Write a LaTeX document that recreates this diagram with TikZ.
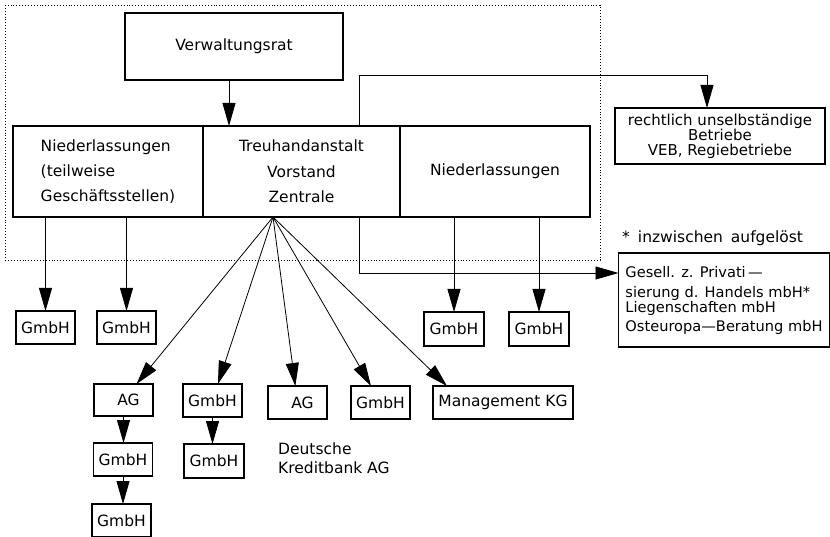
\documentclass[tikz,border=0pt]{standalone}
\usepackage{fontspec}
\setmainfont{DejaVu Sans}
\usetikzlibrary{arrows.meta, calc}

\begin{document}
\begin{tikzpicture}[
  x = 1pt, y = -1pt,
  every node/.style = {
    font = \fontsize{15.5}{18}\selectfont,
    inner sep = 0pt,
  },
  box/.style = {
    shape = rectangle,
    draw = black,
    line width = 1.4pt,
    outer sep = 0pt,
  },
  unit/.style = {
    box,
    minimum width = 59pt,
    minimum height = 33pt,
  }
]
  \useasboundingbox (0, 0) rectangle (830, 537);

  \draw[dotted, line width = 0.9pt] (5, 5) rectangle (600, 260);

  \node[box, minimum width = 218pt, minimum height = 67pt] (verw) at (234, 46.5) {Verwaltungsrat};

  \node[box, minimum width = 190pt, minimum height = 91pt, align = left,
    font = \fontsize{15.5}{25}\selectfont] (nl) at (108, 171.5)
    {Niederlassungen\\(teilweise\\Geschäftsstellen)};
  \node[box, minimum width = 197pt, minimum height = 91pt, align = center,
    font = \fontsize{15.5}{25.5}\selectfont] (tha) at (301.5, 171.5)
    {Treuhandanstalt\\Vorstand\\Zentrale};
  \node[box, minimum width = 190pt, minimum height = 91pt] (nr) at (495, 171.5) {Niederlassungen};

  \node[box, minimum width = 210pt, minimum height = 56pt, align = center,
    font = \fontsize{15}{15}\selectfont] (betr) at (720, 136)
    {rechtlich unselbständige\\Betriebe\\VEB, Regiebetriebe};

  \node[anchor = west] (note) at (622, 238) {*\hspace{8pt}inzwischen\hspace{3pt} aufgelöst};
  \node[box, minimum width = 211pt, minimum height = 94pt, align = left,
    font = \fontsize{14.6}{17}\selectfont] (ges) at (724, 300)
    {Gesell. z. Privati\,---\\[3pt]sierung d. Handels mbH*\\[-2pt]Liegenschaften mbH\\[2pt]Osteuropa---Beratung mbH};

  \node[unit] (gl1) at (45.5, 327.5) {GmbH};
  \node[unit] (gl2) at (126.5, 327.5) {GmbH};
  \node[unit, minimum width = 60pt, minimum height = 34pt] (gr1) at (454, 329) {GmbH};
  \node[unit, minimum width = 60pt, minimum height = 34pt] (gr2) at (539, 329) {GmbH};

  \node[unit, minimum height = 32pt] (ag1) at (123.5, 400) {\hspace{10pt}AG};
  \node[unit] (ag1b) at (123, 459.5) {GmbH};
  \node[unit] (ag1c) at (121.5, 520.5) {GmbH};
  \node[unit] (gm2) at (212.5, 400.5) {GmbH};
  \node[unit, minimum width = 60pt, minimum height = 34pt] (gm2b) at (214, 461) {GmbH};
  \node[unit] (ag3) at (297.5, 402.5) {\hspace{10pt}AG};
  \node[unit] (gm4) at (380.5, 402.5) {GmbH};
  \node[box, minimum width = 140pt, minimum height = 33pt] (mkg) at (503, 402.5) {Management KG};

  \node[anchor = west, align = left, font = \fontsize{15.5}{19}\selectfont] (dkb) at (278, 458.5)
    {Deutsche\\Kreditbank AG};

  \coordinate (vs) at ($(verw.south) + (-5, 0)$);
  \coordinate (fan) at ($(tha.south) + (-28.5, 0)$);
  \coordinate (up) at ($(tha.north east) + (-41, 0)$);
  \coordinate (dn) at ($(tha.south east) + (-41, 0)$);

  \begin{scope}[
    every path/.style = {-{Triangle[length = 23pt, width = 13pt]}, line width = 0.8pt}
  ]
    \draw (vs) -- (vs |- tha.north);

    \draw (up) -- ++(0, -51) -| ($(betr.north) + (-13, 0)$);
    \draw (dn) |- ($(ges.west) + (0, -27)$);

    \draw (gl1.north |- nl.south) -- (gl1.north);
    \draw (gl2.north |- nl.south) -- (gl2.north);
    \draw (gr1.north |- nr.south) -- (gr1.north);
    \draw (gr2.north |- nr.south) -- (gr2.north);

    \draw (fan) -- (ag1);
    \draw (fan) -- (gm2);
    \draw (fan) -- (ag3);
    \draw (fan) -- (gm4);
    \draw (fan) -- ($(mkg.north west) + (14, 0)$);

    \draw (ag1.south) -- (ag1.south |- ag1b.north);
    \draw (ag1b.south) -- (ag1b.south |- ag1c.north);
    \draw (gm2.south) -- (gm2.south |- gm2b.north);
  \end{scope}
\end{tikzpicture}
\end{document}
